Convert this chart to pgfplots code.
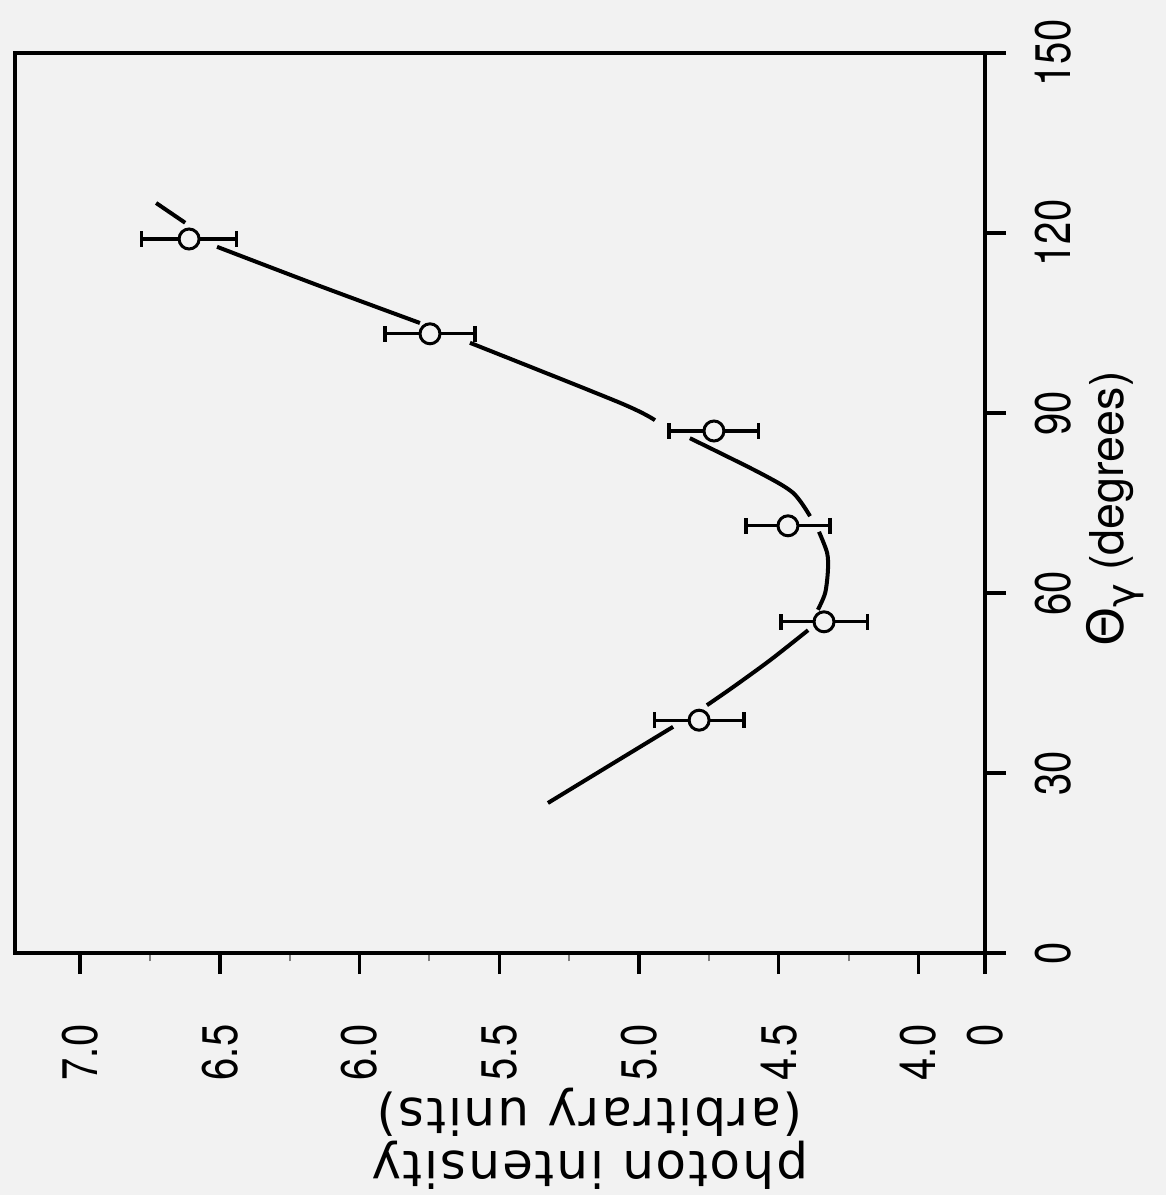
\documentclass[border=0pt]{standalone}
\usepackage{fontspec}
\usepackage{graphicx}
\usepackage{pgfplots}
\pgfplotsset{compat=1.18}
\setmainfont{DejaVu Sans}
\newfontfamily\tickfont{TeX Gyre Heros}
\newfontfamily\labfont{TeX Gyre Heros}
\newfontfamily\dv{DejaVu Sans}
\newfontfamily\xlabfont[LetterSpace=4]{DejaVu Sans}
\definecolor{bg}{RGB}{242,242,242}
\newcommand\tl[1]{\scalebox{0.8}[1]{#1}}

\pgfplotstableread{
I      t      e
6.610  119.0  0.170
5.748  103.2  0.160
4.732  87.0   0.160
4.467  71.2   0.150
4.338  55.2   0.155
4.785  38.8   0.160
}\datapts

\begin{document}
\begin{tikzpicture}
\path[use as bounding box, fill=bg] (-4.5pt,-72.6pt) rectangle (345.3pt,285.9pt);
\begin{axis}[
  anchor=south west, at={(0pt,0pt)},
  scale only axis, width=291pt, height=270pt,
  x dir=reverse,
  xmin=3.762, xmax=7.233, ymin=0, ymax=150,
  xtick={4,4.5,5,5.5,6,6.5,7},
  xticklabels={\tl{4.0},\tl{4.5},\tl{5.0},\tl{5.5},\tl{6.0},\tl{6.5},\tl{7.0}},
  extra x ticks={3.762}, extra x tick labels={\tl{0}},
  minor x tick num=1,
  ytick={0,30,60,90,120,150},
  yticklabels={\tl{0},\tl{30},\tl{60},\tl{90},\tl{120},\tl{150}},
  xtick pos=bottom, ytick pos=right,
  tick align=outside,
  major tick length=6.3pt, minor tick length=2.5pt,
  axis line style={line width=1pt},
  every tick/.style={black, line width=1pt},
  every minor tick/.style={black!50, line width=0.6pt},
  xticklabel style={rotate=90, anchor=east, inner sep=0pt, font=\tickfont\fontsize{15}{15}\selectfont},
  yticklabel style={rotate=90, anchor=north, inner sep=0pt, font=\tickfont\fontsize{15}{15}\selectfont},
  xticklabel shift=15pt, yticklabel shift=8.6pt,
  every axis x label/.style={at={(axis description cs:0.5928,-0.149)}, rotate=180, anchor=south, align=center, inner sep=0pt, font=\xlabfont\fontsize{15}{16}\selectfont},
  every axis y label/.style={at={(axis description cs:1.104,0.4933)}, rotate=90, anchor=north, inner sep=0pt, font=\labfont\fontsize{14}{16}\selectfont},
  xlabel={photon intensity\\(arbitrary units)},
  ylabel={{\dv\fontsize{15}{16}\selectfont Θ}\raisebox{-0.5ex}{\dv\fontsize{12}{12}\selectfont γ}\ (degrees)},
]
% fitted curve, drawn in segments with gaps at the data points
\addplot[black, line width=1.2pt, smooth] coordinates {(5.326,25.0) (5.104,31.3) (4.878,37.7)};
\addplot[black, line width=1.2pt, smooth] coordinates {(4.757,41.3) (4.664,44.3) (4.531,48.8) (4.395,53.8)};
\addplot[black, line width=1.2pt, smooth] coordinates {(4.360,57.2) (4.334,60.0) (4.324,63.8) (4.327,66.7) (4.356,70.2)};
\addplot[black, line width=1.2pt, smooth] coordinates {(4.388,72.8) (4.449,76.7) (4.567,80.0) (4.818,85.8)};
\addplot[black, line width=1.2pt, smooth] coordinates {(4.943,88.8) (5.068,91.7) (5.605,101.7)};
\addplot[black, line width=1.2pt, smooth] coordinates {(5.784,105.0) (6.150,111.3) (6.510,117.7)};
\addplot[black, line width=1.2pt, smooth] coordinates {(6.624,121.7) (6.728,125.0)};
% data points with error bars
\addplot[only marks, mark=*, mark size=3pt, mark options={fill=bg, draw=black, line width=0.9pt},
  error bars/.cd, x dir=both, x explicit,
  error mark=|,
  error bar style={line width=1pt, black},
  error mark options={line width=1.1pt, mark size=2.4pt, black}]
  table[x=I, y=t, x error=e] {\datapts};
\end{axis}
\end{tikzpicture}
\end{document}
